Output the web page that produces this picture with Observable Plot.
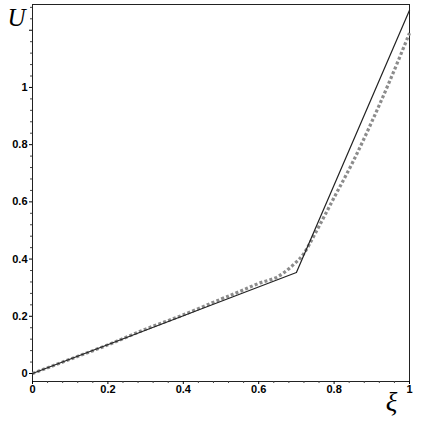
<!DOCTYPE html>
<html>
<head>
<meta charset="utf-8">
<script src="https://cdn.jsdelivr.net/npm/d3@7"></script>
<script src="https://cdn.jsdelivr.net/npm/@observablehq/plot@0.6"></script>
<style>
  body { margin: 0; background: #fff; }
</style>
</head>
<body>
<div id="chart"></div>
<script>
// Tick values
const xMajorTicks = [0, 0.2, 0.4, 0.6, 0.8, 1];
const yMajorTicks = [0, 0.2, 0.4, 0.6, 0.8, 1, 1.2];
const yLabelled = [0, 0.2, 0.4, 0.6, 0.8, 1];
const xMinorTicks = [0.04,0.08,0.12,0.16,0.24,0.28,0.32,0.36,0.44,0.48,0.52,0.56,0.64,0.68,0.72,0.76,0.84,0.88,0.92,0.96];
const yMinorTicks = [0.04,0.08,0.12,0.16,0.24,0.28,0.32,0.36,0.44,0.48,0.52,0.56,0.64,0.68,0.72,0.76,0.84,0.88,0.92,0.96,1.04,1.08,1.12,1.16,1.24,1.28];

// Solid piecewise-linear series
const solidXi = [0, 0.7, 1];
const solidU  = [0, 0.353, 1.27];

// Dotted (square markers) series
const dotXi = [0, 0.1, 0.2, 0.3, 0.4, 0.5, 0.55, 0.6, 0.65, 0.7, 0.72, 0.75, 0.8, 0.85, 0.9, 0.95, 1];
const dotU  = [0, 0.05, 0.10, 0.155, 0.205, 0.26, 0.287, 0.315, 0.338, 0.39, 0.42, 0.49, 0.615, 0.74, 0.88, 1.03, 1.19];

const solid = solidXi.map((x, i) => ({x, y: solidU[i]}));
const dotted = dotXi.map((x, i) => ({x, y: dotU[i]}));

const fmt = d => yLabelled.includes(d) ? String(+d.toFixed(1)) : "";

const chart = Plot.plot({
  width: 425,
  height: 425,
  marginLeft: 32,
  marginRight: 16,
  marginTop: 4,
  marginBottom: 44,
  style: {fontFamily: "Liberation Sans, Arial, sans-serif", fontSize: "11px", fontWeight: "bold", color: "#000", background: "#fff"},
  x: {domain: [0, 1]},
  y: {domain: [-0.028, 1.29]},
  marks: [
    Plot.frame({stroke: "#222", strokeWidth: 1}),
    Plot.axisX({ticks: xMinorTicks, tickSize: 2, text: null, label: null, stroke: "#444"}),
    Plot.axisY({ticks: yMinorTicks, tickSize: 2, text: null, label: null, stroke: "#444"}),
    Plot.axisX({ticks: xMajorTicks, tickSize: 3, tickPadding: 1, tickFormat: d => String(+d.toFixed(1)), label: null}),
    Plot.axisY({ticks: yMajorTicks, tickSize: 3, tickPadding: 2, tickFormat: fmt, label: null}),
    Plot.line(dotted, {x: "x", y: "y", curve: "catmull-rom", stroke: "#8c8c8c", strokeWidth: 3.2, strokeDasharray: "3,2.2", strokeLinecap: "butt"}),
    Plot.line(solid, {x: "x", y: "y", stroke: "#222", strokeWidth: 1.2}),
    Plot.text(["U"], {frameAnchor: "top-left", dx: -16, dy: 13, fontFamily: "Liberation Serif, Times New Roman, serif", fontStyle: "italic", fontWeight: "normal", fontSize: 25, textAnchor: "middle", lineAnchor: "middle"}),
    Plot.text(["ξ"], {frameAnchor: "bottom-right", dx: -18, dy: 21, fontFamily: "Liberation Serif, Times New Roman, serif", fontStyle: "italic", fontWeight: "normal", fontSize: 27, textAnchor: "middle", lineAnchor: "middle"})
  ]
});
document.getElementById("chart").appendChild(chart);
</script>
</body>
</html>
